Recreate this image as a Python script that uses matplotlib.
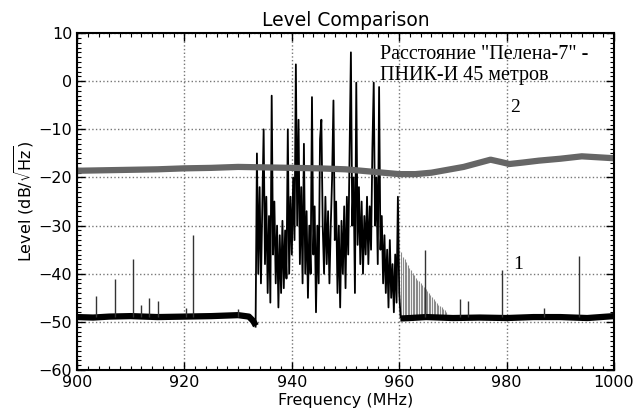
import numpy as np
import matplotlib
matplotlib.use("Agg")
import matplotlib.pyplot as plt
from matplotlib.ticker import MultipleLocator

# --------------------------
# Data
# --------------------------
# trace 1: noise floor left / right of the band
floor_l_f = [900, 903, 906, 910, 915, 920, 925, 930, 932, 932.8, 933.3]
floor_l_db = [-49.0, -49.1, -48.9, -48.8, -49.0, -48.9, -48.8, -48.6, -48.9, -49.8, -50.8]
floor_r_f = [960.2, 962, 965, 970, 975, 980, 985, 990, 995, 1000]
floor_r_db = [-49.3, -49.2, -49.0, -49.2, -49.1, -49.2, -49.0, -49.0, -49.2, -48.8]

# spurs sitting on the floor
spur_f = [903.5, 907.1, 910.4, 911.9, 913.4, 915.0, 920.3, 921.6, 930.0,
          964.8, 971.3, 972.8, 979.1, 987.0, 993.5]
spur_db = [-44.6, -41.0, -36.9, -46.5, -45.0, -45.6, -47.2, -32.0, -47.3,
           -35.0, -45.2, -45.6, -39.2, -47.2, -36.3]

# wideband signal 933.25 .. 960.25 MHz, one value every 0.25 MHz
sig_db = [-51, -15, -40, -22, -42, -26, -10, -38, -24, -44,
          -28, -46, -3, -36, -25, -42, -30, -47, -32, -44,
          -29, -43, -31, -41, -10, -40, -24, -36, -20, -33,
          3.5, -30, -8, -38, -22, -42, -13, -40, -27, -45,
          -30, -40, -3.3, -36, -26, -48, -30, -42, -12, -8,
          -30, -40, -24, -38, -27, -42, -30, -20, -4, -33,
          -25, -44, -30, -47, -29, -40, -26, -43, -24, -36,
          -15, 6, -30, -20, -44, -0.3, -34, -22, -38, -25,
          -40, -28, -36, -24, -38, -26, -35, -14, -0.3, -30,
          -20, -38, -1.2, -35, -28, -42, -32, -44, -35, -47,
          -33, -45, -38, -48, -36, -46, -24, -44, -49]
sig_f = 933.25 + 0.25 * np.arange(len(sig_db))

# decaying comb right after the band
ramp_db = [-35.5, -36.5, -37.0, -37.6, -38.2, -38.8, -39.3, -39.8, -40.3, -40.8,
           -41.2, -41.6, -42.0, -42.4, -42.8, -43.2, -43.6, -44.0, -44.4, -44.8,
           -45.2, -45.6, -46.0, -46.4, -46.7, -47.0, -47.3, -47.6, -47.9]
ramp_f = 960.4 + 0.3 * np.arange(len(ramp_db))

# trace 2
tr2_f = [900, 905, 910, 915, 920, 925, 930, 935, 940, 945, 950, 955, 958, 960,
         963, 966, 969, 972, 975, 977, 979, 980.5, 983, 986, 990, 994, 997, 1000]
tr2_db = [-18.6, -18.5, -18.4, -18.3, -18.1, -18.0, -17.8, -17.9, -18.0, -18.1,
          -18.3, -18.8, -19.1, -19.3, -19.3, -19.0, -18.4, -17.8, -16.9, -16.3,
          -16.8, -17.2, -16.9, -16.5, -16.1, -15.6, -15.8, -16.0]

# --------------------------
# Plot
# --------------------------
fig = plt.figure(figsize=(6.35, 4.18), dpi=100)
ax = fig.add_axes([0.1213, 0.1148, 0.8457, 0.806])

ax.vlines(ramp_f, -49.3, ramp_db, color="#8a8a8a", lw=0.8)
ax.plot(floor_l_f, floor_l_db, color="black", lw=4.5, solid_capstyle="butt")
ax.plot(floor_r_f, floor_r_db, color="black", lw=4.5, solid_capstyle="butt")
ax.vlines(spur_f, -49, spur_db, color="#333333", lw=1.0)
ax.plot(sig_f, sig_db, color="black", lw=1.3)
ax.plot(tr2_f, tr2_db, color="#666666", lw=4.5, solid_capstyle="butt")

ax.set_xlim(900, 1000)
ax.set_ylim(-60, 10)
ax.xaxis.set_major_locator(MultipleLocator(20))
ax.xaxis.set_minor_locator(MultipleLocator(2))
ax.yaxis.set_major_locator(MultipleLocator(10))
ax.yaxis.set_minor_locator(MultipleLocator(1))
ax.tick_params(which="both", direction="in", top=True, right=True, labelsize=11.5)
ax.tick_params(which="major", length=6, width=1)
ax.tick_params(which="minor", length=3, width=0.8)
ax.grid(True, linestyle=":", color="#777777", lw=1)
for s in ax.spines.values():
    s.set_linewidth(1.5)

ax.set_title("Level Comparison", fontsize=13.5, pad=5)
ax.set_xlabel("Frequency (MHz)", fontsize=11.5, labelpad=2)
ax.set_ylabel(r"Level (dB/$\sqrt{\mathrm{Hz}}$)", fontsize=11.5, labelpad=2)

ax.text(956.4, 7.6, 'Расстояние "Пелена-7" -\nПНИК-И 45 метров',
        family="Liberation Serif", fontsize=14.5, va="top", ha="left",
        linespacing=1.15)
ax.text(981.6, -5.4, "2", family="Liberation Serif", fontsize=14, ha="center", va="center")
ax.text(982.2, -38, "1", family="Liberation Serif", fontsize=14, ha="center", va="center")

fig.savefig("out.png", dpi=100)
